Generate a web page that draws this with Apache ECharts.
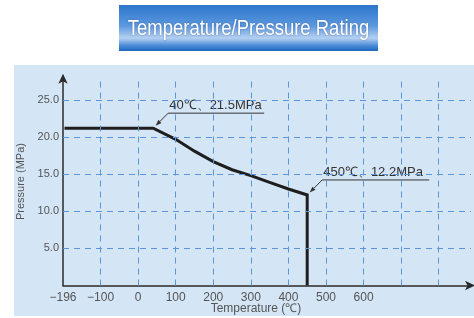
<!DOCTYPE html>
<html>
<head>
<meta charset="utf-8">
<script src="https://cdn.jsdelivr.net/npm/echarts@6/dist/echarts.min.js"></script>
<style>
  html, body { margin: 0; padding: 0; background: #fff; }
  #chart { width: 474px; height: 318px; }
</style>
</head>
<body>
<div id="chart"></div>
<script>
// rating curve
const temps = [-196, 40, 100, 150, 200, 250, 300, 350, 400, 450, 450];
const pressures = [21.2, 21.2, 19.7, 18.1, 16.7, 15.6, 14.8, 13.9, 13.0, 12.2, 0];

const xTicks = [-200, -100, 0, 100, 200, 300, 400, 500, 600];
const xTickLabels = ['\u2212196', '\u2212100', '0', '100', '200', '300', '400', '500', '600'];
const xGrid = [-100, 0, 100, 200, 300, 400, 500, 600, 700, 800];
const yTicks = [5, 10, 15, 20, 25];
const yTickLabels = ['5.0', '10.0', '15.0', '20.0', '25.0'];

const notes = [
  { x: 40, y: 21.2, text: '40\u2103\u300121.5MPa', len: 96 },
  { x: 450, y: 12.2, text: '450\u2103\u300112.2MPa', len: 107 }
];

const gridColor = '#5b95d6';
const axisColor = '#2a2a2a';

const myChart = echarts.init(document.getElementById('chart'));

myChart.setOption({
  animation: false,
  grid: { left: 63, right: 1, top: 77.7, bottom: 32.5, containLabel: false },
  xAxis: {
    type: 'value', min: -200, max: 886, interval: 100,
    axisLine: { onZero: false, lineStyle: { color: axisColor, width: 1.5 }, symbol: ['none', 'arrow'], symbolSize: [7, 10], symbolOffset: [0, 4] },
    axisTick: { show: false },
    splitLine: { show: false },
    axisLabel: {
      color: '#555', fontSize: 12, margin: 6, fontFamily: 'Liberation Sans',
      formatter: v => { const i = xTicks.indexOf(v); return i >= 0 ? xTickLabels[i] : ''; }
    }
  },
  yAxis: {
    type: 'value', min: 0, max: 28, interval: 5,
    name: 'Pressure (MPa)', nameLocation: 'middle', nameGap: 33,
    nameTextStyle: { color: '#555', fontSize: 11, fontFamily: 'Liberation Sans' },
    axisLine: { onZero: false, lineStyle: { color: axisColor, width: 1.5 }, symbol: ['none', 'arrow'], symbolSize: [7, 10], symbolOffset: [0, 4] },
    axisTick: { show: false },
    splitLine: { show: false },
    axisLabel: {
      color: '#555', fontSize: 11, margin: 4, fontFamily: 'Liberation Sans',
      formatter: v => { const i = yTicks.indexOf(v); return i >= 0 ? yTickLabels[i] : ''; }
    }
  },
  series: [
    {
      type: 'line', z: 1, data: [[-196, 0]], showSymbol: false, silent: true,
      lineStyle: { opacity: 0 },
      markLine: {
        silent: true, symbol: 'none', animation: false,
        label: { show: false },
        lineStyle: { color: gridColor, type: [6, 5], width: 1 },
        data: xGrid.map(v => ({ xAxis: v })).concat(yTicks.map(v => ({ yAxis: v })))
      }
    },
    {
      type: 'line', z: 3, showSymbol: false, silent: true,
      data: temps.map((t, i) => [t, pressures[i]]),
      lineStyle: { color: '#1e1e1e', width: 3, join: 'miter' }
    }
  ]
});

const graphics = [
  { type: 'rect', z: -10, silent: true, shape: { x: 14, y: 65, width: 460, height: 251 }, style: { fill: '#d4e5f6' } },
  {
    type: 'rect', silent: true, shape: { x: 119, y: 5, width: 259, height: 46 },
    style: {
      fill: new echarts.graphic.LinearGradient(0, 0, 0, 1, [
        { offset: 0, color: '#2c76cc' },
        { offset: 0.45, color: '#5c98de' },
        { offset: 0.72, color: '#b4d0f1' },
        { offset: 0.88, color: '#4d8bd6' },
        { offset: 1, color: '#1d68bf' }
      ])
    }
  },
  {
    type: 'text', silent: true, x: 248.5, y: 29, scaleX: 0.84,
    style: {
      text: 'Temperature/Pressure Rating', fill: '#fff', fontSize: 22,
      fontFamily: 'Liberation Sans, sans-serif',
      align: 'center', verticalAlign: 'middle',
      textShadowColor: 'rgba(0,0,40,0.35)', textShadowBlur: 2
    }
  },
  {
    type: 'text', silent: true, x: 256, y: 309,
    style: {
      text: 'Temperature (\u2103)', fill: '#555', fontSize: 12,
      fontFamily: 'Liberation Sans', align: 'center', verticalAlign: 'middle'
    }
  }
];

notes.forEach(n => {
  const p = myChart.convertToPixel({ gridIndex: 0 }, [n.x, n.y]);
  const sx = p[0] + 15, sy = p[1] - 15;
  const tx = p[0] + 2.5, ty = p[1] - 2.5;
  const d = Math.hypot(tx - sx, ty - sy);
  const ux = (tx - sx) / d, uy = (ty - sy) / d;
  const bx = tx - 6 * ux, by = ty - 6 * uy;
  graphics.push(
    { type: 'polyline', silent: true, shape: { points: [[sx + n.len, sy], [sx, sy], [bx, by]] }, style: { stroke: '#333', lineWidth: 1, fill: null } },
    { type: 'polygon', silent: true, shape: { points: [[tx, ty], [bx - 2.2 * uy, by + 2.2 * ux], [bx + 2.2 * uy, by - 2.2 * ux]] }, style: { fill: '#333' } },
    {
      type: 'text', silent: true, x: sx + 1, y: sy - 8,
      style: { text: n.text, fill: '#333', fontSize: 13, fontFamily: 'Liberation Sans', align: 'left', verticalAlign: 'middle' }
    }
  );
});

myChart.setOption({ graphic: graphics });
</script>
</body>
</html>
